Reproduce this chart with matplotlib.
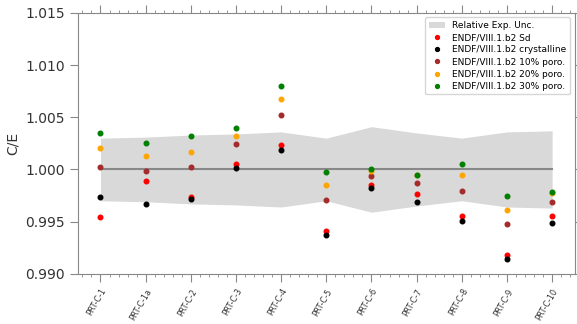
import numpy as np
import matplotlib

matplotlib.use("Agg")

import matplotlib.pyplot as plt
from matplotlib.ticker import MultipleLocator, FormatStrFormatter

cases = ["PRT-C-1", "PRT-C-1a", "PRT-C-2", "PRT-C-3", "PRT-C-4", "PRT-C-5",
         "PRT-C-6", "PRT-C-7", "PRT-C-8", "PRT-C-9", "PRT-C-10"]

# relative experimental uncertainty (1 sigma)
exp_unc = [0.0030, 0.0031, 0.0033, 0.0034, 0.0036, 0.0030,
           0.0041, 0.0035, 0.0030, 0.0036, 0.0037]

ce_sd = [0.99543, 0.99888, 0.99738, 1.00054, 1.00233, 0.99412,
         0.99847, 0.99760, 0.99553, 0.99176, 0.99550]
ce_crystalline = [0.99738, 0.99665, 0.99713, 1.00010, 1.00185, 0.99374,
                  0.99818, 0.99687, 0.99502, 0.99141, 0.99483]
ce_poro10 = [1.00022, 0.99984, 1.00022, 1.00240, 1.00523, 0.99706,
             0.99936, 0.99866, 0.99795, 0.99473, 0.99687]
ce_poro20 = [1.00204, 1.00125, 1.00172, 1.00322, 1.00676, 0.99850,
             0.99984, 0.99945, 0.99943, 0.99610, 0.99770]
ce_poro30 = [1.00345, 1.00249, 1.00316, 1.00402, 1.00800, 0.99974,
             1.00000, 0.99945, 1.00051, 0.99744, 0.99783]

series = [
    ("ENDF/VIII.1.b2 Sd", ce_sd, "red"),
    ("ENDF/VIII.1.b2 crystalline", ce_crystalline, "black"),
    ("ENDF/VIII.1.b2 10% poro.", ce_poro10, "brown"),
    ("ENDF/VIII.1.b2 20% poro.", ce_poro20, "orange"),
    ("ENDF/VIII.1.b2 30% poro.", ce_poro30, "green"),
]

x = np.arange(len(cases))
unc = np.array(exp_unc)

fig = plt.figure(figsize=(5.77, 3.24), dpi=100)
ax = fig.add_axes([0.135, 0.155, 0.861, 0.805])

ax.fill_between(x, 1 - unc, 1 + unc, color="#d9d9d9", linewidth=0,
                label="Relative Exp. Unc.")
ax.plot(x, np.ones(len(x)), color="#888888", linewidth=1.5)

for label, vals, color in series:
    ax.plot(x, vals, "o", color=color, markersize=3.3, linestyle="none",
            label=label)

ax.set_xlim(-0.5, 10.5)
ax.set_ylim(0.990, 1.015)
ax.yaxis.set_major_locator(MultipleLocator(0.005))
ax.yaxis.set_major_formatter(FormatStrFormatter("%.3f"))
ax.set_xticks(x)
ax.set_xticklabels(cases, rotation=60, ha="right", rotation_mode="anchor",
                   fontsize=5.8, color="#333333")
ax.xaxis.set_minor_locator(MultipleLocator(0.2))

ax.tick_params(axis="x", which="both", direction="out", top=True,
               color="#888888")
ax.tick_params(axis="x", which="major", length=6)
ax.tick_params(axis="x", which="minor", length=2.5)
ax.tick_params(axis="y", which="major", direction="out", right=True,
               length=6, color="#888888", labelsize=10, labelcolor="#333333")

for spine in ax.spines.values():
    spine.set_color("#888888")

ax.set_ylabel("C/E", fontsize=10, color="#333333")

ax.legend(loc="upper right", fontsize=6.5, frameon=True, edgecolor="#cccccc",
          handlelength=1.8, labelspacing=0.35, borderpad=0.4,
          handletextpad=0.8, markerscale=0.85)

fig.savefig("out.png", dpi=100)
